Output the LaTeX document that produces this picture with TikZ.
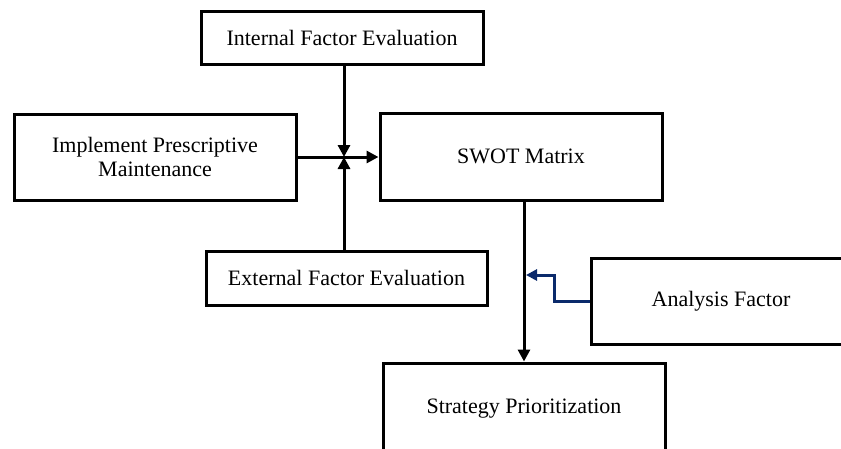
\documentclass[tikz,border=0pt]{standalone}
\usepackage{fontspec}
\setmainfont{Liberation Serif}
\usetikzlibrary{arrows.meta}
\definecolor{navy}{HTML}{0B2A6B}
\begin{document}
\begin{tikzpicture}[x=1pt,y=-1pt,
  box/.style={draw=black,line width=3pt,fill=white,inner sep=0pt,align=center,
    font=\fontsize{22}{24}\selectfont},
  conn/.style={line width=3pt,-{Triangle[length=12pt,width=12pt]}},
  bconn/.style={draw=navy,line width=3pt,-{Triangle[length=11pt,width=11pt]}}]
\useasboundingbox (0,0) rectangle (841,448);
\clip (0,0) rectangle (841,448);
\node[box,minimum width=282pt,minimum height=53pt] (ife) at (342,37.5) {Internal Factor Evaluation};
\node[box,minimum width=282pt,minimum height=86pt] (ipm) at (155,157) {Implement Prescriptive\\Maintenance};
\node[box,minimum width=282pt,minimum height=87pt] (swot) at (521,156.5) {SWOT Matrix};
\node[box,minimum width=281pt,minimum height=54pt] (efe) at (346.5,278) {External Factor Evaluation};
\node[box,minimum width=260pt,minimum height=86pt] (af) at (721,301) {Analysis Factor};
\node[box,minimum width=282pt,minimum height=92pt] (sp) at (524,409) {Strategy Prioritization};
\coordinate (jn) at (344,157);
\coordinate (tgt) at (526,275);
\draw[conn] (ipm.east |- jn) -- (swot.west |- jn);
\draw[conn] (jn |- ife.south) -- (jn);
\draw[conn] (jn |- efe.north) -- (jn);
\draw[conn] (sp.north |- swot.south) -- (sp.north);
\draw[bconn] (af.west) -- ++(-35,0) |- (tgt);
\end{tikzpicture}
\end{document}
